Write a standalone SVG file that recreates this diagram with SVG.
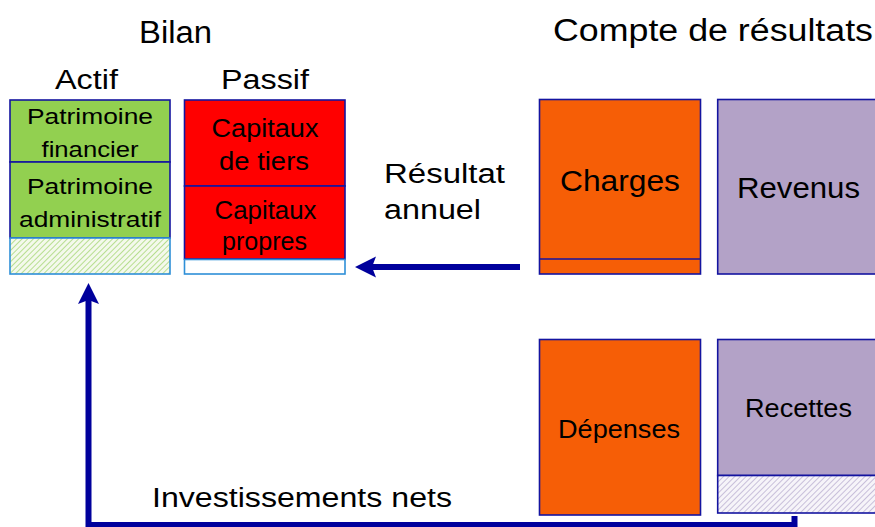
<svg xmlns="http://www.w3.org/2000/svg" width="875" height="527" viewBox="0 0 875 527">
<style>
text{font-family:"Liberation Sans",Arial,sans-serif;fill:#000;text-anchor:middle}
.b{stroke:#1414A0;stroke-width:1.6}
.lb{stroke:#2E8FD8;stroke-width:1.6}
.t{font-size:31px}
.h{font-size:27px}
.s{font-size:22px}
.m{font-size:25px}
.l{font-size:30px}
.arr{stroke:#00009C;fill:none;stroke-width:6}
</style>
<defs>
<pattern id="hg" width="4" height="4" patternUnits="userSpaceOnUse" patternTransform="rotate(45)">
<rect width="4" height="4" fill="#F4F9EC"/>
<line x1="0" y1="0" x2="0" y2="4" stroke="#A8D878" stroke-width="1.6"/>
</pattern>
<pattern id="hp" width="4" height="4" patternUnits="userSpaceOnUse" patternTransform="rotate(45)">
<rect width="4" height="4" fill="#F6F4F9"/>
<line x1="0" y1="0" x2="0" y2="4" stroke="#BDB2D2" stroke-width="1.6"/>
</pattern>
<marker id="ah" markerUnits="userSpaceOnUse" markerWidth="24" markerHeight="24" refX="7" refY="12" orient="auto" viewBox="0 0 24 24">
<path d="M23 12 L2 1.5 L6 12 L2 22.5 Z" fill="#00009C"/>
</marker>
</defs>

<text class="t" x="175.5" y="43" textLength="73" lengthAdjust="spacingAndGlyphs">Bilan</text>
<text class="t" x="713" y="41" font-size="32" textLength="320" lengthAdjust="spacingAndGlyphs">Compte de résultats</text>
<text class="h" x="86.5" y="89" textLength="63" lengthAdjust="spacingAndGlyphs">Actif</text>
<text class="h" x="265" y="89" textLength="88" lengthAdjust="spacingAndGlyphs">Passif</text>

<g id="actif">
<rect x="10" y="100" width="160" height="62" fill="#92D050" class="b"/>
<rect x="10" y="162" width="160" height="76" fill="#92D050" class="b"/>
<rect x="10" y="238" width="160" height="36" fill="url(#hg)" class="lb"/>
<text class="s" x="90" y="124" textLength="126" lengthAdjust="spacingAndGlyphs">Patrimoine</text>
<text class="s" x="90" y="157" textLength="97" lengthAdjust="spacingAndGlyphs">financier</text>
<text class="s" x="90" y="194" textLength="126" lengthAdjust="spacingAndGlyphs">Patrimoine</text>
<text class="s" x="90" y="227" textLength="142" lengthAdjust="spacingAndGlyphs">administratif</text>
</g>

<g id="passif">
<rect x="184.5" y="100" width="160.5" height="86" fill="#FF0000" class="b"/>
<rect x="184.5" y="186" width="160.5" height="73" fill="#FF0000" class="b"/>
<rect x="184.5" y="259.5" width="160.5" height="14.5" fill="#FFFFFF" class="lb"/>
<text class="m" x="265" y="137" textLength="107" lengthAdjust="spacingAndGlyphs">Capitaux</text>
<text class="m" x="264" y="170" textLength="90" lengthAdjust="spacingAndGlyphs">de tiers</text>
<text class="m" x="265.5" y="219" textLength="102" lengthAdjust="spacingAndGlyphs">Capitaux</text>
<text class="m" x="264.5" y="250" textLength="85" lengthAdjust="spacingAndGlyphs">propres</text>
</g>

<g id="charges">
<rect x="539.5" y="99.5" width="161" height="174.5" fill="#F65E06" class="b"/>
<line x1="539.5" y1="259" x2="700.5" y2="259" class="b"/>
<text class="l" x="620" y="191" textLength="120" lengthAdjust="spacingAndGlyphs">Charges</text>
</g>

<g id="revenus">
<rect x="717.7" y="99.5" width="170" height="174.5" fill="#B3A2C7" class="b"/>
<text class="l" x="798.5" y="198" textLength="123" lengthAdjust="spacingAndGlyphs">Revenus</text>
</g>

<g id="depenses">
<rect x="539.5" y="339.5" width="161" height="175.5" fill="#F65E06" class="b"/>
<text class="m" x="619" y="438" font-size="27" textLength="122" lengthAdjust="spacingAndGlyphs">Dépenses</text>
</g>

<g id="recettes">
<rect x="717.7" y="339.5" width="170" height="136" fill="#B3A2C7" class="b"/>
<rect x="717.7" y="475.5" width="170" height="37.5" fill="url(#hp)" class="b"/>
<text class="m" x="798.5" y="417" font-size="27" textLength="107" lengthAdjust="spacingAndGlyphs">Recettes</text>
</g>

<g id="labels">
<text class="h" x="444.5" y="183" font-size="29" textLength="121" lengthAdjust="spacingAndGlyphs">Résultat</text>
<text class="h" x="432.5" y="219" font-size="29" textLength="97" lengthAdjust="spacingAndGlyphs">annuel</text>
<text class="h" x="302" y="507" font-size="27" textLength="300" lengthAdjust="spacingAndGlyphs">Investissements nets</text>
</g>

<g id="connectors">
<path class="arr" d="M520 267 H371" marker-end="url(#ah)"/>
<path class="arr" d="M794.5 516 V525 H88.5 V299" stroke-linejoin="miter" marker-end="url(#ah)"/>
</g>
</svg>
